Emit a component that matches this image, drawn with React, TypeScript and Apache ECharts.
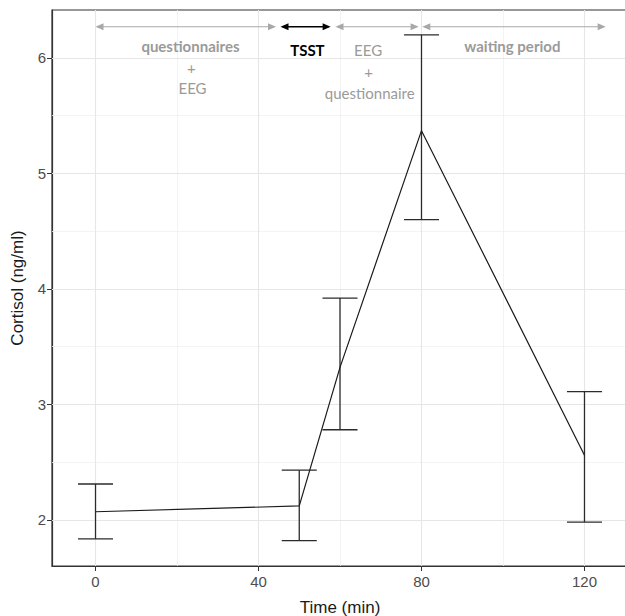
import React, { useEffect, useRef } from "react";
import * as echarts from "echarts";

// ---- data ----
const timePoints = [0, 50, 60, 80, 120];
const cortisolMean = [2.07, 2.12, 3.32, 5.37, 2.56];
const cortisolLower = [1.835, 1.82, 2.78, 4.6, 1.98];
const cortisolUpper = [2.31, 2.43, 3.92, 6.2, 3.11];

const xTickValues = [0, 40, 80, 120];
const xMinorGrid = [20, 60, 100];
const yTickValues = [2, 3, 4, 5, 6];
const yMinorGrid = [2.5, 3.5, 4.5, 5.5];

// phase arrows: start, end (min), and level (ng/ml)
const arrowStart = [0, 45.4, 58.9, 80.2];
const arrowEnd = [44.3, 57.7, 79.3, 125.2];
const arrowLevel = 6.27;
const arrowDark = [false, true, false, false];

// phase annotations
const noteText = ["questionnaires", "+", "EEG", "TSST", "EEG", "+", "questionnaire", "waiting period"];
const noteX = [23.3, 23.5, 23.8, 52, 66.9, 67, 67.3, 102.3];
const noteY = [6.1, 5.915, 5.74, 6.07, 6.07, 5.88, 5.7, 6.1];
const noteBold = [true, false, false, true, false, false, false, true];
const noteDark = [false, false, false, true, false, false, false, false];

const errorCapHalfWidth = 4.3;

export default function App() {
  const ref = useRef<HTMLDivElement>(null);

  useEffect(() => {
    if (!ref.current) return;
    const chart = echarts.init(ref.current, undefined, { renderer: "svg" });

    const gray = "#a8a8a8";
    const ink = "#2b2b2b";

    const option: any = {
      animation: false,
      backgroundColor: "#ffffff",
      grid: {
        left: 52,
        top: 10,
        right: -3,
        bottom: 50,
        show: true,
        borderColor: "#333333",
        borderWidth: 1.2,
        containLabel: false,
        outerBoundsMode: "none",
      },
      xAxis: {
        type: "value",
        min: -10.68,
        max: 130.68,
        name: "Time (min)",
        nameLocation: "middle",
        nameGap: 33,
        nameTextStyle: { color: "#1a1a1a", fontSize: 17, fontFamily: "Liberation Sans" },
        axisLine: { show: true, onZero: false, lineStyle: { color: "#333333", width: 1.2 } },
        axisTick: { show: true, customValues: xTickValues, length: 5, lineStyle: { color: "#333333" } },
        axisLabel: {
          customValues: xTickValues,
          color: "#4d4d4d",
          fontSize: 15,
          fontFamily: "Liberation Sans",
          margin: 8,
        },
        splitLine: { show: false },
      },
      yAxis: {
        type: "value",
        min: 1.6,
        max: 6.415,
        name: "Cortisol (ng/ml)",
        nameLocation: "middle",
        nameGap: 26,
        nameTextStyle: { color: "#1a1a1a", fontSize: 17, fontFamily: "Liberation Sans" },
        axisLine: { show: true, onZero: false, lineStyle: { color: "#333333", width: 1.2 } },
        axisTick: { show: true, customValues: yTickValues, length: 5, lineStyle: { color: "#333333" } },
        axisLabel: {
          customValues: yTickValues,
          color: "#4d4d4d",
          fontSize: 15,
          fontFamily: "Liberation Sans",
          margin: 6,
        },
        splitLine: { show: false },
      },
      series: [
        {
          type: "line",
          name: "minor grid",
          data: [],
          z: 1,
          silent: true,
          markLine: {
            z: 1,
            silent: true,
            symbol: ["none", "none"],
            label: { show: false },
            lineStyle: { color: "#f0f0f0", width: 0.8, type: "solid" },
            emphasis: { disabled: true },
            data: [
              ...xMinorGrid.map((v) => ({ xAxis: v })),
              ...yMinorGrid.map((v) => ({ yAxis: v })),
            ],
          },
        },
        {
          type: "line",
          name: "major grid",
          data: [],
          z: 1,
          silent: true,
          markLine: {
            z: 1,
            silent: true,
            symbol: ["none", "none"],
            label: { show: false },
            lineStyle: { color: "#e6e6e6", width: 1.1, type: "solid" },
            emphasis: { disabled: true },
            data: [
              ...xTickValues.map((v) => ({ xAxis: v })),
              ...yTickValues.map((v) => ({ yAxis: v })),
            ],
          },
        },
        {
          type: "custom",
          name: "error bars",
          z: 4,
          silent: true,
          encode: { x: 0, y: [1, 2] },
          data: timePoints.map((t, i) => [t, cortisolLower[i], cortisolUpper[i]]),
          renderItem: (params: any, api: any) => {
            const x = api.value(0);
            const lo = api.value(1);
            const hi = api.value(2);
            const pHi = api.coord([x, hi]);
            const pLo = api.coord([x, lo]);
            const pL = api.coord([x - errorCapHalfWidth, hi]);
            const pR = api.coord([x + errorCapHalfWidth, hi]);
            const style = { stroke: ink, lineWidth: 1.3 };
            return {
              type: "group",
              children: [
                { type: "line", shape: { x1: pHi[0], y1: pHi[1], x2: pLo[0], y2: pLo[1] }, style },
                { type: "line", shape: { x1: pL[0], y1: pHi[1], x2: pR[0], y2: pHi[1] }, style },
                { type: "line", shape: { x1: pL[0], y1: pLo[1], x2: pR[0], y2: pLo[1] }, style },
              ],
            };
          },
        },
        {
          type: "line",
          name: "cortisol",
          z: 5,
          silent: true,
          data: timePoints.map((t, i) => [t, cortisolMean[i]]),
          symbol: "none",
          lineStyle: { color: "#1a1a1a", width: 1.2 },
        },
        {
          type: "custom",
          name: "phase arrows",
          z: 6,
          silent: true,
          encode: { x: [0, 1], y: 2 },
          data: arrowStart.map((s, i) => [s, arrowEnd[i], arrowLevel]),
          renderItem: (params: any, api: any) => {
            const a = api.coord([api.value(0), api.value(2)]);
            const b = api.coord([api.value(1), api.value(2)]);
            const dark = arrowDark[params.dataIndex];
            const color = dark ? "#000000" : gray;
            const hl = 8;
            const hh = 3.6;
            const y = a[1];
            return {
              type: "group",
              children: [
                {
                  type: "line",
                  shape: { x1: a[0] + 2, y1: y, x2: b[0] - 2, y2: y },
                  style: { stroke: color, lineWidth: dark ? 1.3 : 1.1 },
                },
                {
                  type: "polygon",
                  shape: { points: [[a[0], y], [a[0] + hl, y - hh], [a[0] + hl, y + hh]] },
                  style: { fill: color },
                },
                {
                  type: "polygon",
                  shape: { points: [[b[0], y], [b[0] - hl, y - hh], [b[0] - hl, y + hh]] },
                  style: { fill: color },
                },
              ],
            };
          },
        },
        {
          type: "custom",
          name: "phase notes",
          z: 6,
          silent: true,
          encode: { x: 0, y: 1 },
          data: noteX.map((x, i) => [x, noteY[i]]),
          renderItem: (params: any, api: any) => {
            const i = params.dataIndex;
            const p = api.coord([api.value(0), api.value(1)]);
            return {
              type: "text",
              x: p[0],
              y: p[1],
              style: {
                text: noteText[i],
                fill: noteDark[i] ? "#000000" : "#9a9a9a",
                font: `${noteBold[i] ? "bold" : "normal"} 15px Lato`,
                align: "center",
                verticalAlign: "middle",
              },
            };
          },
        },
      ],
    };

    chart.setOption(option);
    return () => chart.dispose();
  }, []);

  return (
    <div
      ref={ref}
      style={{ position: "absolute", left: 0, top: 0, width: 625, height: 616 }}
    />
  );
}
